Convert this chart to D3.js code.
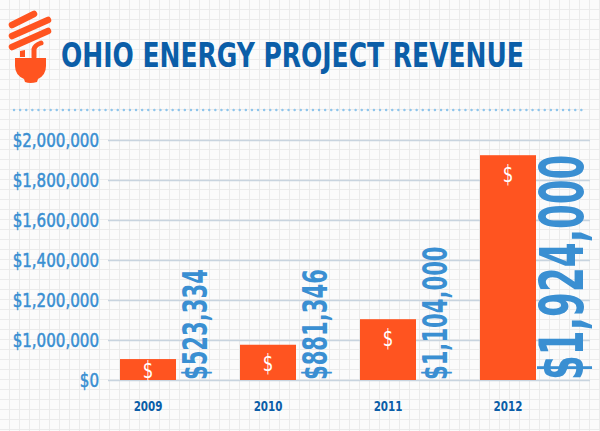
<!DOCTYPE html>
<html>
<head>
<meta charset="utf-8">
<script src="https://cdn.jsdelivr.net/npm/d3@7.9.0/dist/d3.min.js"></script>
<style>
  html, body { margin: 0; padding: 0; background: #fbfbfb; }
  svg { display: block; }
  .cond { font-family: "Liberation Sans Narrow", "DejaVu Sans Condensed", "Roboto", sans-serif; }
</style>
</head>
<body>
<svg id="chart" width="600" height="431"></svg>
<script>
// data
const years = ['2009', '2010', '2011', '2012'];
const revenue = [523334, 881346, 1104000, 1924000];
const tickValues = [0, 1000000, 1200000, 1400000, 1600000, 1800000, 2000000];
const title = 'OHIO ENERGY PROJECT REVENUE';

const W = 600, H = 431;
const orange = '#ff5420';
const blue = '#3a8fd2';
const darkBlue = '#0b5ea8';

const svg = d3.select('#chart');

// squeeze text horizontally, no narrow font is installed
function squeeze(sel, factor) {
    sel.each(function () {
        let len = this.getComputedTextLength();
        d3.select(this)
            .attr('textLength', len * factor)
            .attr('lengthAdjust', 'spacingAndGlyphs');
    });
}

// graph paper background
let paper = svg.append('g').attr('stroke', '#ebebeb').attr('stroke-width', 1);
d3.range(9.5, W, 10).forEach(x => {
    paper.append('line').attr('x1', x).attr('x2', x).attr('y1', 0).attr('y2', H);
});
d3.range(9.5, H, 10).forEach(y => {
    paper.append('line').attr('x1', 0).attr('x2', W).attr('y1', y).attr('y2', y);
});

// light bulb icon
let bulb = svg.append('g').attr('fill', orange).attr('stroke', orange);
[[12, 25, 34, 14], [12, 36, 48, 20], [12, 47, 48, 31]].forEach(s => {
    bulb.append('line')
        .attr('x1', s[0]).attr('y1', s[1]).attr('x2', s[2]).attr('y2', s[3])
        .attr('stroke-width', 6.5).attr('stroke-linecap', 'round');
});
bulb.append('path').attr('d', 'M20,51 L25,50 L25,57 L20,57 Z').attr('stroke', 'none');
bulb.append('path').attr('d', 'M34,57 L34,49 Q35,45 41,43')
    .attr('fill', 'none').attr('stroke-width', 5).attr('stroke-linecap', 'round');
bulb.append('path')
    .attr('d', 'M15,58 L46,58 L46,66 Q46,75 38,79 L37,82 Q30,84 25,82 L24,79 Q15,75 15,66 Z')
    .attr('stroke', 'none');

// title, scaled to the width of the original lettering
let titleText = svg.append('text')
    .attr('class', 'cond')
    .attr('font-size', 34)
    .attr('font-weight', 'bold')
    .attr('fill', darkBlue)
    .text(title);
let sx = 463 / titleText.node().getComputedTextLength();
titleText.attr('transform', `translate(61,67) scale(${sx},1)`);

// dotted rule
svg.append('line')
    .attr('x1', 14).attr('x2', 587).attr('y1', 110).attr('y2', 110)
    .attr('stroke', '#8ec5ec').attr('stroke-width', 2.4)
    .attr('stroke-dasharray', '0.1 6').attr('stroke-linecap', 'round');

// scales (axis is broken between $0 and $1,000,000)
const x = d3.scaleBand().domain(years).range([100, 556]).paddingInner(0.5333).paddingOuter(0.1667);
const y = d3.scaleLinear().domain([0, 1000000, 2000000]).range([380, 340, 140]);

const fmt = d3.format('$,');

let yAxis = svg.append('g')
    .attr('transform', 'translate(108,0)')
    .call(d3.axisLeft(y).tickValues(tickValues).tickFormat(fmt).tickSize(-482).tickPadding(9));
yAxis.select('.domain').remove();
yAxis.selectAll('line').attr('stroke', '#c8d4df').attr('stroke-width', 1.3);
yAxis.selectAll('text')
    .attr('class', 'cond')
    .attr('fill', blue)
    .attr('stroke', blue)
    .attr('stroke-width', 0.5)
    .attr('font-size', 19.5)
    .attr('font-weight', 'normal')
    .call(squeeze, 0.86);

// bars
let bars = svg.append('g');
revenue.forEach((v, i) => {
    let bx = x(years[i]);
    let top = y(v);
    bars.append('rect')
        .attr('x', bx).attr('y', top)
        .attr('width', x.bandwidth()).attr('height', y(0) - top)
        .attr('fill', orange);

    let cy = Math.min(top + 19, (top + y(0)) / 2);
    bars.append('text')
        .attr('class', 'cond')
        .attr('x', bx + x.bandwidth() / 2)
        .attr('y', cy)
        .attr('dy', '0.36em')
        .attr('text-anchor', 'middle')
        .attr('font-size', 23)
        .attr('fill', '#ffffff')
        .text('$')
        .call(squeeze, 0.8);

    // rotated value labels, the last one larger
    let big = i === revenue.length - 1;
    let lx = bx + x.bandwidth() + (big ? 47 : 31);
    bars.append('text')
        .attr('class', 'cond')
        .attr('transform', `translate(${lx},${y(0)}) rotate(-90)`)
        .attr('font-size', big ? 60 : 34)
        .attr('font-weight', 'bold')
        .attr('fill', blue)
        .text(fmt(v))
        .call(squeeze, big ? 0.66 : 0.69);

    // year labels
    bars.append('text')
        .attr('class', 'cond')
        .attr('x', bx + x.bandwidth() / 2)
        .attr('y', 411)
        .attr('text-anchor', 'middle')
        .attr('font-size', 13.5)
        .attr('font-weight', 'bold')
        .attr('fill', darkBlue)
        .text(years[i])
        .call(squeeze, 0.85);
});
</script>
</body>
</html>
